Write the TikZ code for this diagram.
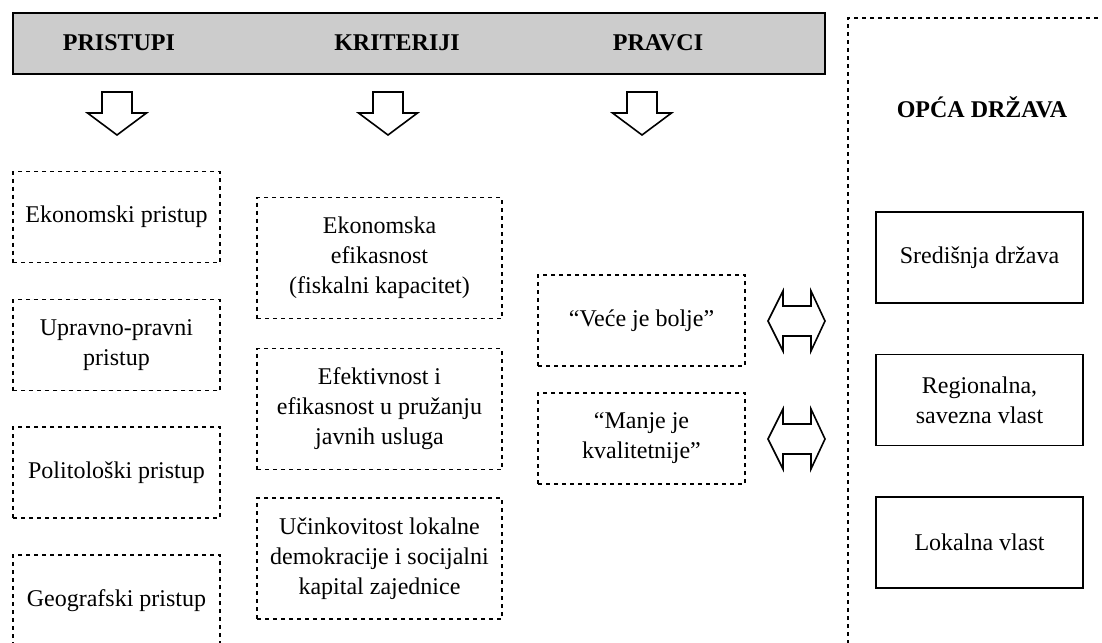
\documentclass[tikz,border=0pt]{standalone}
\usepackage{fontspec}
\setmainfont{Liberation Serif}
\usepackage{tikz}
\usetikzlibrary{positioning}

\tikzset{
  txt/.style={font=\fontsize{18}{22.5}\selectfont, align=center, inner sep=0pt},
  head/.style={txt, font=\fontsize{18}{22.5}\selectfont\bfseries},
  dotbox/.style={txt, draw, line width=1.3pt, dash pattern=on 3pt off 3pt,
    minimum width=155.25pt, minimum height=68.25pt},
  widebox/.style={dotbox, minimum width=183.75pt, minimum height=90.75pt},
  solidbox/.style={txt, draw, line width=1.3pt, minimum width=155.25pt, minimum height=68.25pt},
  blockarr/.style={draw, line width=1.2pt, fill=white}
}

\begin{document}
\begin{tikzpicture}[x=0.75pt, y=-0.75pt]
  \useasboundingbox (0,0) rectangle (1102,642);
  \clip (0,0) rectangle (1102,642);

  \node[draw, line width=1.2pt, fill=black!20, minimum width=609pt, minimum height=45.75pt] (bar) at (419,43.5) {};
  \node[head] (pristupi) at (119,43) {PRISTUPI};
  \node[head] (kriteriji) at (397,43) {KRITERIJI};
  \node[head] (pravci) at (658,43) {PRAVCI};

  % down arrows
  \draw[blockarr] (117,135) -- ++(-29.5,-22) -- ++(14.5,0) -- ++(0,-21) -- ++(30,0) -- ++(0,21) -- ++(14.5,0) -- cycle;
  \draw[blockarr] (388,135) -- ++(-29.5,-22) -- ++(14.5,0) -- ++(0,-21) -- ++(30,0) -- ++(0,21) -- ++(14.5,0) -- cycle;
  \draw[blockarr] (642,135) -- ++(-29.5,-22) -- ++(14.5,0) -- ++(0,-21) -- ++(30,0) -- ++(0,21) -- ++(14.5,0) -- cycle;

  \node[dotbox] (eko) at (116.5,217) {Ekonomski pristup};
  \node[dotbox] (upr) at (116.5,345) {Upravno-pravni\\pristup};
  \node[dotbox] (pol) at (116.5,472.5) {Politološki pristup};
  \node[dotbox] (geo) at (116.5,600.5) {Geografski pristup};

  \node[widebox] (krit1) at (379.5,258) {Ekonomska\\efikasnost\\(fiskalni kapacitet)};
  \node[widebox] (krit2) at (379.5,409) {Efektivnost i\\efikasnost u pružanju\\javnih usluga};
  \node[widebox] (krit3) at (379.5,558.5) {Učinkovitost lokalne\\demokracije i socijalni\\kapital zajednice};

  \node[dotbox] (prav1) at (641.5,320.5) {“Veće je bolje”};
  \node[dotbox] (prav2) at (641.5,438.5) {“Manje je\\kvalitetnije”};

  % double arrows
  \draw[blockarr] (768,321) -- ++(15,-30) -- ++(0,15) -- ++(28,0) -- ++(0,-15) -- ++(14,30) -- ++(-14,30) -- ++(0,-15) -- ++(-28,0) -- ++(0,15) -- cycle;
  \draw[blockarr] (768,439) -- ++(15,-30) -- ++(0,15) -- ++(28,0) -- ++(0,-15) -- ++(14,30) -- ++(-14,30) -- ++(0,-15) -- ++(-28,0) -- ++(0,15) -- cycle;

  \draw[line width=1.3pt, dash pattern=on 3pt off 3pt] (848,660) -- (848,18) -- (1120,18);
  \node[head] (opca) at (982,107) {OPĆA DRŽAVA};

  \node[solidbox] (sred) at (979.5,257.5) {Središnja država};
  \node[solidbox] (reg) at (979.5,400) {Regionalna,\\savezna vlast};
  \node[solidbox] (lok) at (979.5,542.5) {Lokalna vlast};
\end{tikzpicture}
\end{document}
